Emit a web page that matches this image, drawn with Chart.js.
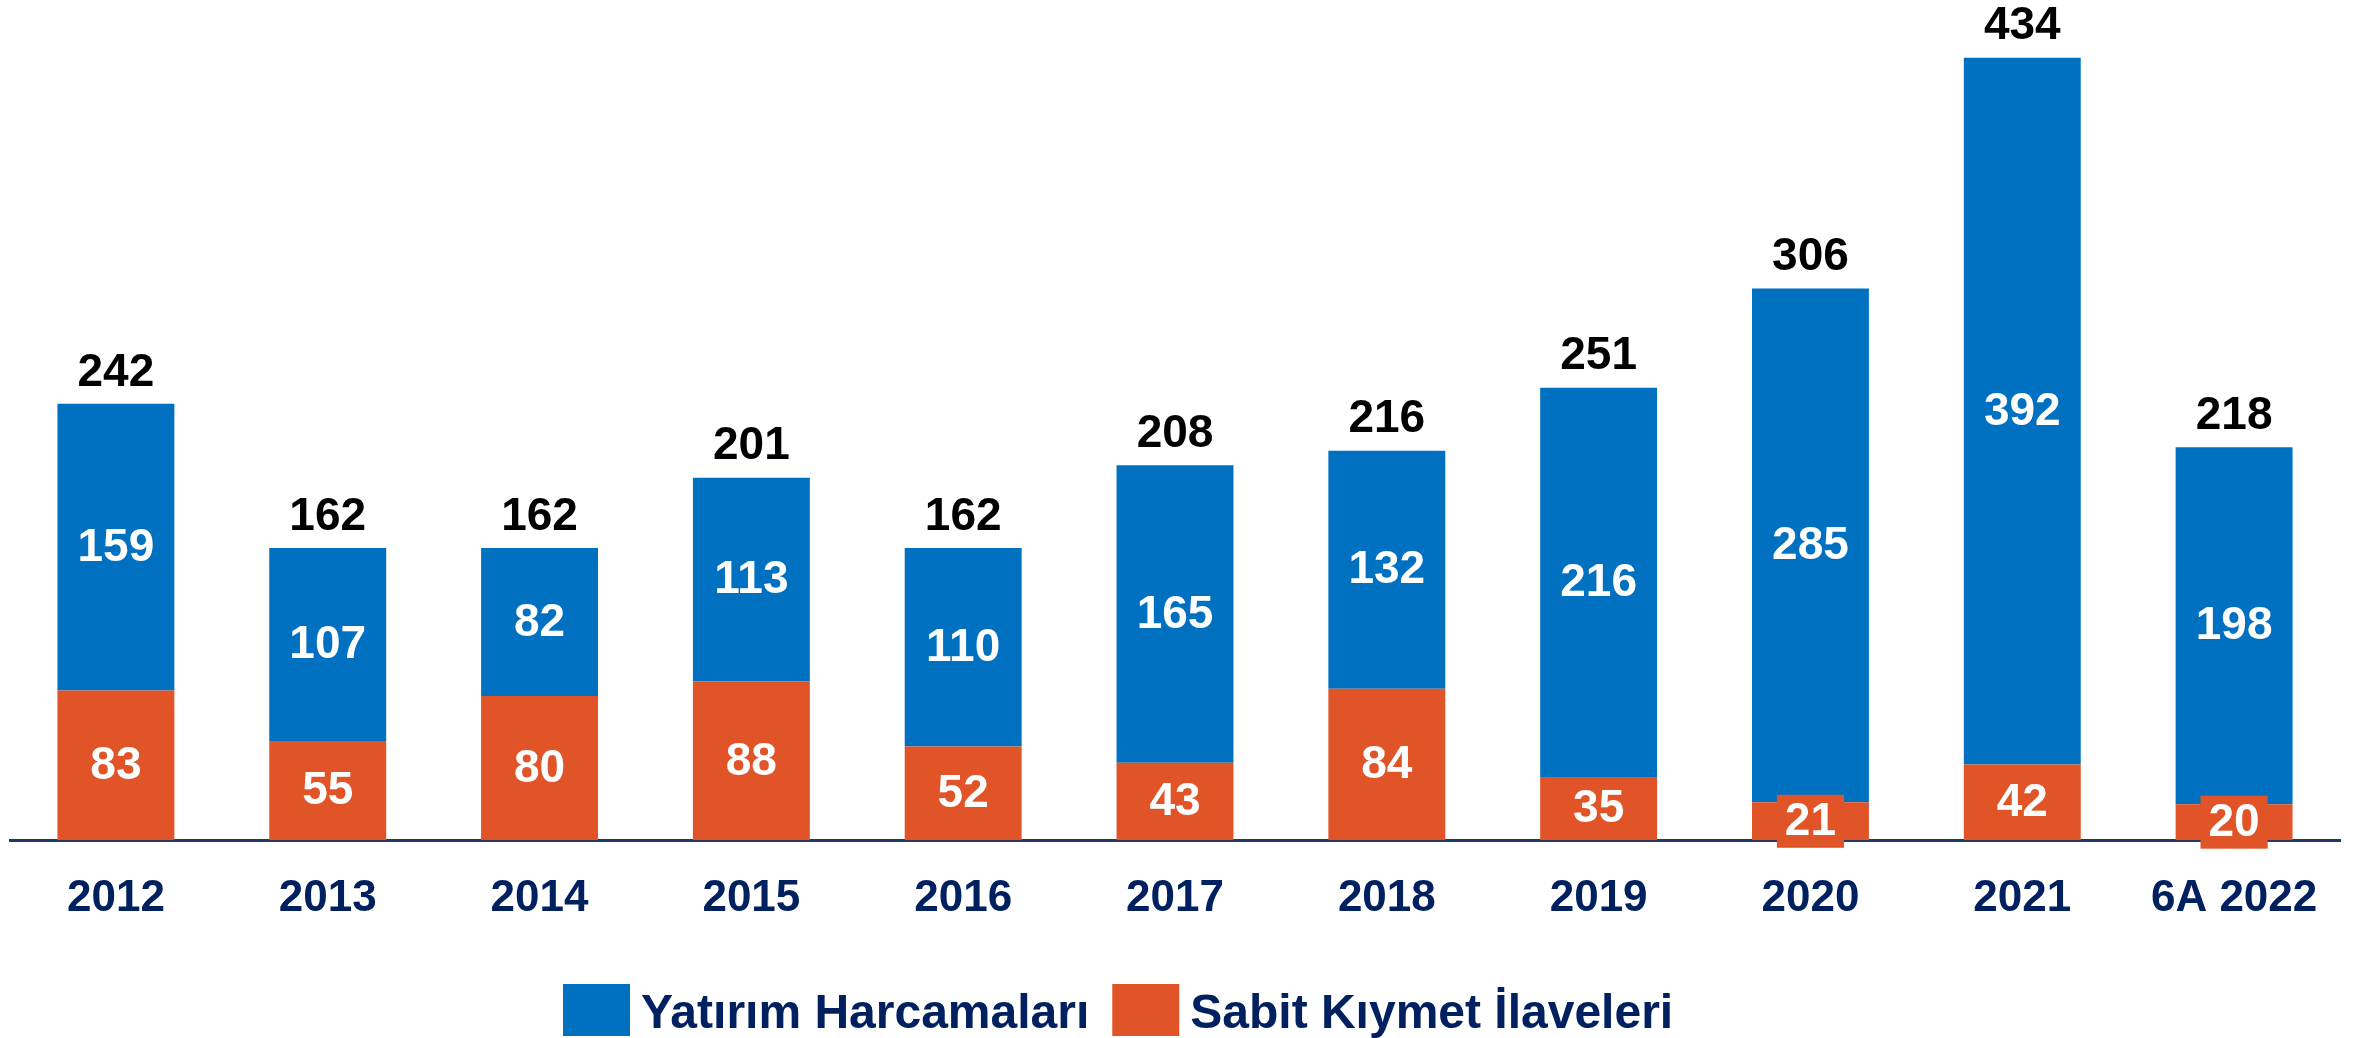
<!DOCTYPE html>
<html>
<head>
<meta charset="utf-8">
<script src="https://cdn.jsdelivr.net/npm/chart.js@4.4.1/dist/chart.umd.min.js"></script>
<style>
  html, body { margin: 0; padding: 0; background: #fff; }
  #wrap { width: 2354px; height: 1038px; position: relative; }
</style>
</head>
<body>
<div id="wrap"><canvas id="chart"></canvas></div>
<script>
// data
const years = ['2012', '2013', '2014', '2015', '2016', '2017', '2018', '2019', '2020', '2021', '6A 2022'];
const yatirim = [159, 107, 82, 113, 110, 165, 132, 216, 285, 392, 198];   // blue, top part
const sabit = [83, 55, 80, 88, 52, 43, 84, 35, 21, 42, 20];               // orange, bottom part
const seriesNames = ['Yatırım Harcamaları', 'Sabit Kıymet İlaveleri'];

const BLUE = '#0070C0';
const ORANGE = '#E05427';
const NAVY = '#002060';
const FONT = '"Liberation Sans", Arial, sans-serif';

// value labels inside segments + totals above the bars
const labelPlugin = {
    id: 'valueLabels',
    afterDatasetsDraw(chart) {
        const ctx = chart.ctx;
        ctx.save();
        ctx.font = 'bold 46px ' + FONT;
        ctx.textAlign = 'center';
        ctx.textBaseline = 'middle';
        chart.data.datasets.forEach((ds, di) => {
            const meta = chart.getDatasetMeta(di);
            meta.data.forEach((bar, i) => {
                const y = (bar.y + bar.base) / 2;
                const txt = String(ds.data[i]);
                if (ds.labelBox) {
                    const w = ctx.measureText(txt).width + 16;
                    const h = 53;
                    ctx.fillStyle = ds.backgroundColor;
                    ctx.fillRect(bar.x - w / 2, y - h / 2, w, h);
                }
                ctx.fillStyle = '#fff';
                ctx.fillText(txt, bar.x, y + 1);
            });
        });
        // totals
        const topMeta = chart.getDatasetMeta(chart.data.datasets.length - 1);
        ctx.fillStyle = '#000';
        topMeta.data.forEach((bar, i) => {
            const total = chart.data.datasets.reduce((s, ds) => s + ds.data[i], 0);
            ctx.fillText(String(total), bar.x, bar.y - 31);
        });
        ctx.restore();
    }
};

// legend: blue first, then orange
const legendPlugin = {
    id: 'customLegend',
    afterDraw(chart) {
        const ctx = chart.ctx;
        ctx.save();
        ctx.font = 'bold 48px ' + FONT;
        ctx.textBaseline = 'alphabetic';
        let x = 563;
        const items = [chart.data.datasets[1], chart.data.datasets[0]];
        items.forEach((ds, k) => {
            ctx.fillStyle = ds.backgroundColor;
            ctx.fillRect(x, 984, 67, 52);
            x += 67 + 11;
            ctx.fillStyle = NAVY;
            ctx.fillText(ds.label, x, 1028);
            x += ctx.measureText(ds.label).width + 23;
        });
        ctx.restore();
    }
};

new Chart(document.getElementById('chart'), {
    type: 'bar',
    data: {
        labels: years,
        datasets: [
            { label: seriesNames[1], data: sabit, backgroundColor: ORANGE, labelBox: true },
            { label: seriesNames[0], data: yatirim, backgroundColor: BLUE }
        ]
    },
    options: {
        responsive: true,
        maintainAspectRatio: false,
        animation: false,
        layout: { padding: { left: 10, right: 14, top: 0, bottom: 81 } },
        datasets: {
            bar: { categoryPercentage: 1, barPercentage: 0.552 }
        },
        scales: {
            x: {
                stacked: true,
                grid: { display: false, drawTicks: false },
                border: { display: true, color: '#1F3868', width: 3 },
                ticks: {
                    color: NAVY,
                    font: { family: FONT, size: 44, weight: 'bold' },
                    padding: 32,
                    maxRotation: 0,
                    autoSkip: false
                }
            },
            y: {
                stacked: true,
                display: false,
                min: 0,
                max: 466
            }
        },
        plugins: {
            legend: { display: false },
            tooltip: { enabled: false }
        }
    },
    plugins: [labelPlugin, legendPlugin]
});
</script>
</body>
</html>
